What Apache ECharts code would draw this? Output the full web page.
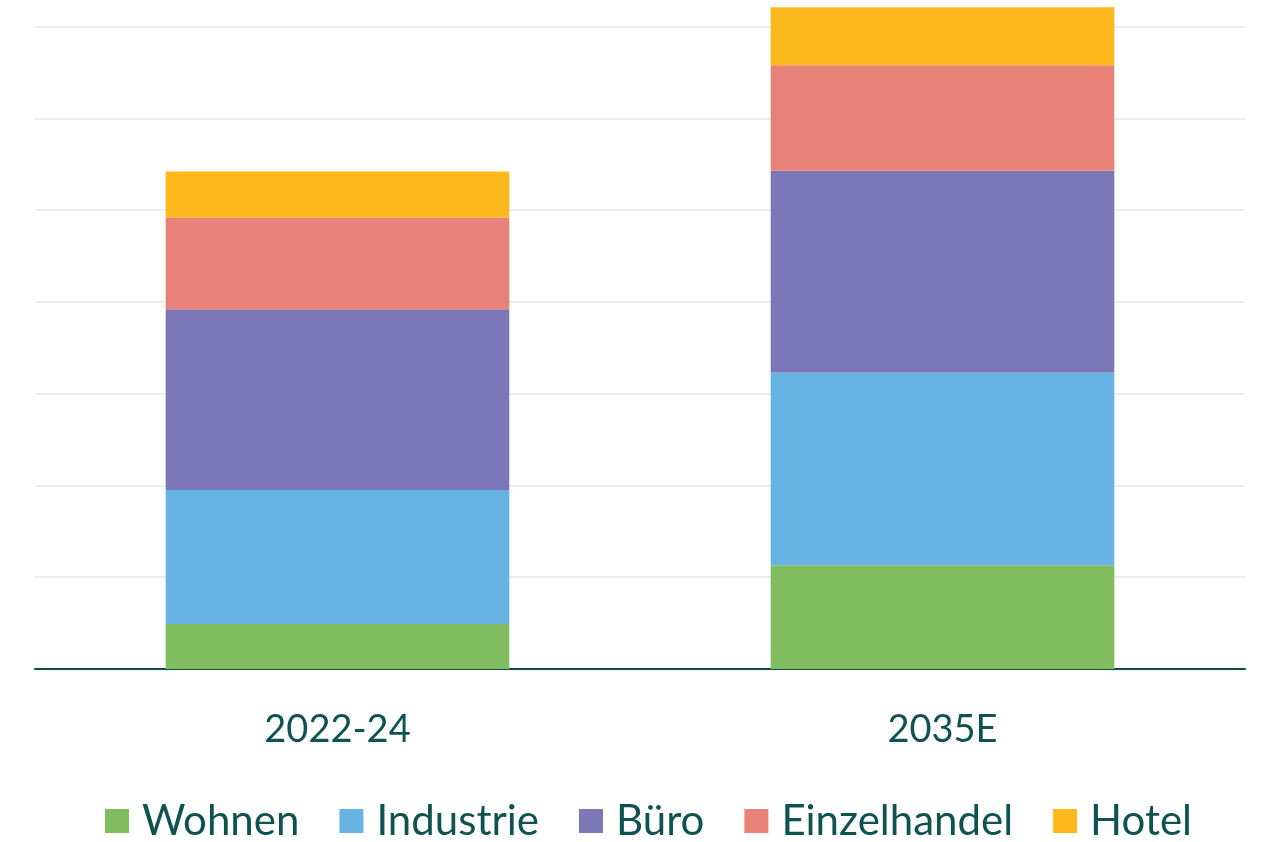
<!DOCTYPE html>
<html>
<head>
<meta charset="utf-8">
<script src="https://cdn.jsdelivr.net/npm/echarts@6/dist/echarts.min.js"></script>
<style>
html,body{margin:0;padding:0;background:#fff;}
#chart{width:1280px;height:842px;}
</style>
</head>
<body>
<div id="chart"></div>
<script>
const categories = ['2022-24', '2035E'];
const seriesNames = ['Wohnen', 'Industrie', 'Büro', 'Einzelhandel', 'Hotel'];
const wohnen = [0.49, 1.13];
const industrie = [1.46, 2.10];
const buero = [1.97, 2.20];
const einzelhandel = [1.00, 1.15];
const hotel = [0.50, 0.63];
const colors = ['#7fbd5f', '#67b4e4', '#7c78b8', '#e88278', '#fdb81e'];

const values = [wohnen, industrie, buero, einzelhandel, hotel];
const textColor = '#0f5252';
const font = 'Lato';

const chart = echarts.init(document.getElementById('chart'));
chart.setOption({
  animation: false,
  backgroundColor: '#ffffff',
  grid: { left: 35, right: 35, top: 0, bottom: 173, containLabel: false },
  legend: {
    bottom: 0,
    left: 100,
    padding: [0, 5, 0, 5],
    icon: 'rect',
    itemWidth: 24,
    itemHeight: 24,
    itemGap: 40,
    textStyle: { color: textColor, fontSize: 42, fontFamily: font, padding: [0, 0, 0, 8] },
    data: seriesNames
  },
  xAxis: {
    type: 'category',
    data: categories,
    axisLine: { show: true, lineStyle: { color: '#0d4b4b', width: 2 } },
    axisTick: { show: false },
    axisLabel: { color: textColor, fontSize: 38, fontFamily: font, margin: 42 }
  },
  yAxis: {
    type: 'value',
    min: 0,
    max: 7.29,
    interval: 1,
    axisLine: { show: false },
    axisTick: { show: false },
    axisLabel: { show: false },
    splitLine: {
      show: true,
      lineStyle: {
        color: ['#ececec', '#ececec', '#ececec', '#ececec', '#ececec', '#ececec', '#ececec', '#ececec', '#ffffff'],
        width: 2
      }
    }
  },
  series: seriesNames.map((name, i) => ({
    name: name,
    type: 'bar',
    stack: 'total',
    barWidth: '56.8%',
    itemStyle: { color: colors[i] },
    data: values[i]
  }))
});
</script>
</body>
</html>
